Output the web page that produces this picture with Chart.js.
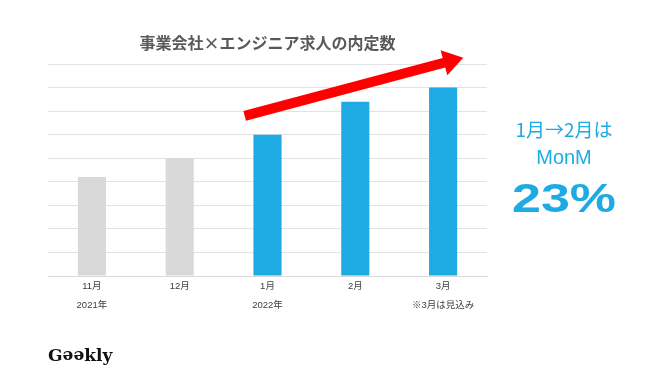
<!DOCTYPE html>
<html>
<head>
<meta charset="utf-8">
<script src="https://cdn.jsdelivr.net/npm/chart.js@4"></script>
<style>
html,body{margin:0;padding:0;background:#fff;}
#wrap{width:650px;height:380px;position:relative;}
</style>
</head>
<body>
<div id="wrap"><canvas id="c" width="650" height="380"></canvas></div>
<script>
const months = ["11月", "12月", "1月", "2月", "3月"];
const subLabels = ["2021年", "", "2022年", "", "※3月は見込み"];
const offers = [4.2, 5.0, 6.0, 7.4, 8.0];
const isNewYear = [false, false, true, true, true];
const yTicksMax = 9;
const arrowFrom = [1.74, 6.8];   // [category index, value]
const arrowTo = [4.23, 9.27];
const titleText = "事業会社×エンジニア求人の内定数";
const noteLines = ["1月→2月は", "MonM", "23%"];
const logoText = ["G", "ee", "kly"];

const BLUE = "#1EAAE2";
const GRAY = "#D9D9D9";

const extras = {
  id: "extras",
  afterDatasetsDraw(chart) {
    const ctx = chart.ctx;
    const x = chart.scales.x, y = chart.scales.y;
    const cw = x.getPixelForValue(1) - x.getPixelForValue(0);
    const px = v => x.getPixelForValue(Math.floor(v)) + (v - Math.floor(v)) * cw;
    const x0 = px(arrowFrom[0]), y0 = y.getPixelForValue(arrowFrom[1]);
    const x1 = px(arrowTo[0]), y1 = y.getPixelForValue(arrowTo[1]);
    const ang = Math.atan2(y1 - y0, x1 - x0);
    const len = Math.hypot(x1 - x0, y1 - y0);
    const headLen = 20, headW = 13, shaftW = 5;
    ctx.save();
    ctx.translate(x0, y0);
    ctx.rotate(ang);
    ctx.fillStyle = "#FF0000";
    ctx.beginPath();
    ctx.moveTo(0, -shaftW);
    ctx.lineTo(len - headLen, -shaftW);
    ctx.lineTo(len - headLen, -headW);
    ctx.lineTo(len, 0);
    ctx.lineTo(len - headLen, headW);
    ctx.lineTo(len - headLen, shaftW);
    ctx.lineTo(0, shaftW);
    ctx.closePath();
    ctx.fill();
    ctx.restore();
  },
  afterDraw(chart) {
    const ctx = chart.ctx;
    const area = chart.chartArea;
    ctx.save();
    // title
    ctx.fillStyle = "#595959";
    ctx.font = "bold 16px 'Noto Sans CJK JP', sans-serif";
    ctx.textAlign = "center";
    ctx.textBaseline = "middle";
    ctx.fillText(titleText, (area.left + area.right) / 2, 43);
    // right note
    ctx.fillStyle = BLUE;
    const cx = 564;
    ctx.textBaseline = "alphabetic";
    ctx.font = "19px 'Noto Sans CJK JP', sans-serif";
    ctx.fillText(noteLines[0], cx, 137);
    ctx.font = "20px 'Liberation Sans', sans-serif";
    ctx.fillText(noteLines[1], cx, 164);
    ctx.save();
    ctx.translate(cx, 212);
    ctx.scale(1.3, 1);
    ctx.font = "bold 40px 'Liberation Sans', sans-serif";
    ctx.fillText(noteLines[2], 0, 0);
    ctx.restore();
    // logo
    ctx.fillStyle = "#111";
    ctx.font = "bold 17px 'DejaVu Serif', serif";
    ctx.textAlign = "left";
    let lx = 48;
    const ly = 361;
    ctx.fillText(logoText[0], lx, ly);
    lx += ctx.measureText(logoText[0]).width;
    const ew = ctx.measureText(logoText[1]).width;
    ctx.save();
    ctx.translate(lx + ew / 2, ly - 5);
    ctx.rotate(Math.PI);
    ctx.fillText(logoText[1], -ew / 2, 5);
    ctx.restore();
    lx += ew;
    ctx.fillText(logoText[2], lx, ly);
    ctx.restore();
  }
};

new Chart(document.getElementById("c"), {
  type: "bar",
  data: {
    labels: months.map((m, i) => [m, subLabels[i]]),
    datasets: [{
      data: offers,
      backgroundColor: isNewYear.map(b => b ? BLUE : GRAY),
      barPercentage: 1,
      categoryPercentage: 0.32
    }]
  },
  options: {
    responsive: false,
    animation: false,
    layout: { padding: { left: 48, right: 163, top: 64, bottom: 64 } },
    plugins: { legend: { display: false }, tooltip: { enabled: false }, title: { display: false } },
    scales: {
      x: {
        grid: { display: false, drawTicks: false },
        border: { display: true, color: "#D9D9D9", width: 1 },
        ticks: {
          color: "#404040",
          padding: 1,
          maxRotation: 0,
          autoSkip: false,
          font: { family: "'Liberation Sans', 'Noto Sans CJK JP', sans-serif", size: 9.5, lineHeight: 2 }
        }
      },
      y: {
        min: 0,
        max: yTicksMax,
        grid: { color: "#E3E3E3", drawTicks: false },
        border: { display: false },
        ticks: { display: false, stepSize: 1 }
      }
    }
  },
  plugins: [extras]
});
</script>
</body>
</html>
